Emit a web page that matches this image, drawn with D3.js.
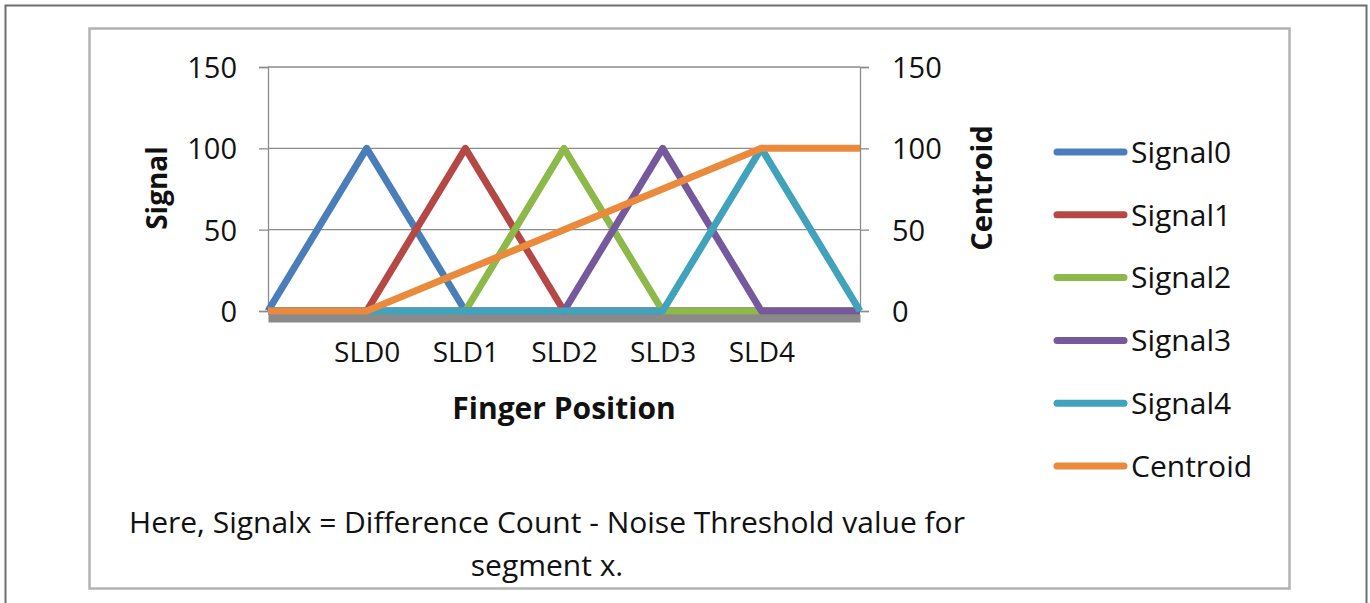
<!DOCTYPE html>
<html><head><meta charset="utf-8">
<script src="https://cdn.jsdelivr.net/npm/d3@7"></script>
<style>
html,body{margin:0;padding:0;background:#fff;}
svg{display:block;font-family:"Open Sans",sans-serif;}
</style></head>
<body><svg id="c" width="1370" height="603"></svg>
<script>
const categories = ["", "SLD0", "SLD1", "SLD2", "SLD3", "SLD4", ""];
const signal0 = [0, 100, 0, 0, 0, 0, 0];
const signal1 = [0, 0, 100, 0, 0, 0, 0];
const signal2 = [0, 0, 0, 100, 0, 0, 0];
const signal3 = [0, 0, 0, 0, 100, 0, 0];
const signal4 = [0, 0, 0, 0, 0, 100, 0];
const centroid = [0, 0, 25, 50, 75, 100, 100];
const seriesNames = ["Signal0", "Signal1", "Signal2", "Signal3", "Signal4", "Centroid"];
const seriesColors = ["#4a7ebb", "#b54844", "#8db84a", "#76599c", "#40a2bb", "#ea8a3c"];
const leftTicks = [0, 50, 100, 150];
const rightTicks = [0, 50, 100, 150];

const svg = d3.select("#c");
const textColor = "#111";

// frames
svg.append("rect").attr("x", 5.5).attr("y", 5.5).attr("width", 1361).attr("height", 620)
  .attr("fill", "none").attr("stroke", "#6e6e6e").attr("stroke-width", 2);
svg.append("rect").attr("x", 89.5).attr("y", 28.5).attr("width", 1200).attr("height", 560)
  .attr("fill", "none").attr("stroke", "#b3b3b3").attr("stroke-width", 2.5);

const x = d3.scalePoint().domain(d3.range(categories.length)).range([268, 860]);
const yL = d3.scaleLinear().domain([0, 150]).range([311, 67]);
const yR = d3.scaleLinear().domain([0, 150]).range([311, 67]);

// gridlines
svg.append("g").selectAll("line").data(leftTicks.filter(d => d > 0)).join("line")
  .attr("x1", 268).attr("x2", 860).attr("y1", d => yL(d)).attr("y2", d => yL(d))
  .attr("stroke", "#8c8c8c").attr("stroke-width", 1.3);

// left axis
const gL = svg.append("g").attr("transform", "translate(268,0)")
  .call(d3.axisLeft(yL).tickValues(leftTicks).tickSize(9).tickPadding(22));
gL.select(".domain").attr("stroke", "#8c8c8c").attr("stroke-width", 1.3);
gL.selectAll(".tick line").attr("stroke", "#8c8c8c").attr("stroke-width", 1.3);
gL.selectAll(".tick text").attr("font-size", 29).attr("fill", textColor)
  .attr("font-family", "Open Sans").attr("dy", "0.36em");

// right axis
const gR = svg.append("g").attr("transform", "translate(860,0)")
  .call(d3.axisRight(yR).tickValues(rightTicks).tickSize(9).tickPadding(23));
gR.select(".domain").attr("stroke", "#8c8c8c").attr("stroke-width", 1.3);
gR.selectAll(".tick line").attr("stroke", "#8c8c8c").attr("stroke-width", 1.3);
gR.selectAll(".tick text").attr("font-size", 29).attr("fill", textColor)
  .attr("font-family", "Open Sans").attr("dy", "0.36em");

// bottom axis (thick grey baseline)
const gB = svg.append("g").attr("transform", "translate(0,318)")
  .call(d3.axisBottom(x).tickSize(0).tickPadding(24).tickFormat(i => categories[i]));
gB.select(".domain").attr("stroke", "#8a8a8a").attr("stroke-width", 8);
gB.selectAll(".tick text").attr("font-size", 28).attr("fill", textColor)
  .attr("font-family", "Open Sans");

// series
const allSeries = [signal0, signal1, signal2, signal3, signal4];
const lineL = d3.line().x((d, i) => x(i)).y(d => yL(d));
const lineR = d3.line().x((d, i) => x(i)).y(d => yR(d));
const gS = svg.append("g");
allSeries.forEach((s, k) => {
  gS.append("path").attr("d", lineL(s)).attr("fill", "none")
    .attr("stroke", seriesColors[k]).attr("stroke-width", 7).attr("stroke-linejoin", "round");
});
gS.append("path").attr("d", lineR(centroid)).attr("fill", "none")
  .attr("stroke", seriesColors[5]).attr("stroke-width", 7).attr("stroke-linejoin", "round");

// axis titles
svg.append("text").attr("transform", "translate(167,188) rotate(-90)")
  .attr("text-anchor", "middle").attr("font-size", 28).attr("font-weight", "bold")
  .attr("fill", textColor).text("Signal");
svg.append("text").attr("transform", "translate(992,188) rotate(-90)")
  .attr("text-anchor", "middle").attr("font-size", 29).attr("font-weight", "bold")
  .attr("fill", textColor).text("Centroid");
svg.append("text").attr("x", 564).attr("y", 419)
  .attr("text-anchor", "middle").attr("font-size", 30).attr("font-weight", "bold")
  .attr("fill", textColor).text("Finger Position");

// note
svg.append("text").attr("x", 547).attr("y", 533).attr("text-anchor", "middle")
  .attr("font-size", 30).attr("fill", textColor)
  .text("Here, Signalx = Difference Count - Noise Threshold value for");
svg.append("text").attr("x", 547).attr("y", 576).attr("text-anchor", "middle")
  .attr("font-size", 30).attr("fill", textColor).text("segment x.");

// legend
const legY = d3.scalePoint().domain(seriesNames).range([152, 466]);
const gLeg = svg.append("g");
seriesNames.forEach((n, k) => {
  gLeg.append("line").attr("x1", 1057).attr("x2", 1124)
    .attr("y1", legY(n)).attr("y2", legY(n))
    .attr("stroke", seriesColors[k]).attr("stroke-width", 7).attr("stroke-linecap", "round");
  gLeg.append("text").attr("x", 1131).attr("y", legY(n)).attr("dy", "0.36em")
    .attr("font-size", 30).attr("fill", textColor).text(n);
});
</script></body></html>
